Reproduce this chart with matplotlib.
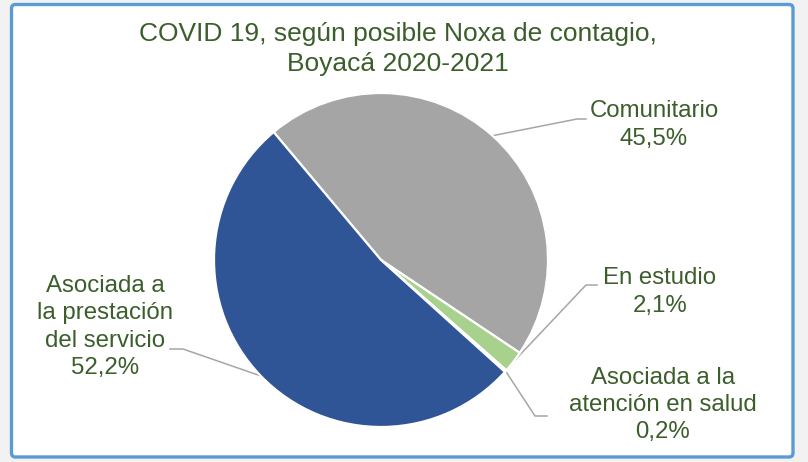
import numpy as np
import matplotlib
matplotlib.use("Agg")
import matplotlib.pyplot as plt
from matplotlib.patches import FancyBboxPatch

# data
categorias = ['Comunitario', 'En estudio', 'Asociada a la\natención en salud',
              'Asociada a\nla prestación\ndel servicio']
porcentajes = [45.5, 2.1, 0.2, 52.2]
colores = ['#A5A5A5', '#A9D18E', '#5B9BD5', '#2F5597']
titulo = 'COVID 19, según posible Noxa de contagio,\nBoyacá 2020-2021'

plt.rcParams['font.family'] = ['Liberation Sans', 'DejaVu Sans']
verde = '#3B5E2B'
gris_linea = '#A6A6A6'

W, H = 808, 462
fig = plt.figure(figsize=(W / 100, H / 100), dpi=100, facecolor='#F2F2F2')

# background axes in pixel coordinates
bg = fig.add_axes([0, 0, 1, 1])
bg.set_xlim(0, W)
bg.set_ylim(H, 0)
bg.axis('off')
bg.add_patch(FancyBboxPatch((11.5, 4.5), W - 15 - 11.5, H - 5 - 4.5,
                            boxstyle='round,pad=0,rounding_size=4',
                            facecolor='white', edgecolor='#5B9BD5', linewidth=2.4))

bg.text(398, 49, titulo, ha='center', va='center', fontsize=19,
        color=verde, linespacing=1.35)

# pie axes
cx, cy, r = 381, 260, 167
ax = fig.add_axes([(cx - r) / W, (H - cy - r) / H, 2 * r / W, 2 * r / H])
wedges, _ = ax.pie(porcentajes, colors=colores, startangle=130, counterclock=False,
                   wedgeprops=dict(edgecolor='white', linewidth=1.6))
ax.set_xlim(-1, 1)
ax.set_ylim(-1, 1)
ax.set_aspect('equal')

# labels with leader lines: (elbow point, end point, text position)
ubic = [
    ((577, 119), (586, 119), (654, 125)),
    ((586, 285), (597, 285), (660, 292)),
    ((535, 416), (547, 416), (663, 405)),
    ((183, 349), (170, 349), (105, 327)),
]
for w, cat, val, (codo, fin, pos) in zip(wedges, categorias, porcentajes, ubic):
    ang = np.deg2rad((w.theta1 + w.theta2) / 2)
    x0 = cx + r * np.cos(ang)
    y0 = cy - r * np.sin(ang)
    bg.plot([x0, codo[0], fin[0]], [y0, codo[1], fin[1]], color=gris_linea, lw=1.1,
            zorder=1)
    txt = cat + '\n' + f'{val:.1f}'.replace('.', ',') + '%'
    bg.text(pos[0], pos[1], txt, ha='center', va='center', fontsize=17.3, color=verde,
            linespacing=1.3, multialignment='center')

fig.savefig('out.png', dpi=100, facecolor=fig.get_facecolor())
